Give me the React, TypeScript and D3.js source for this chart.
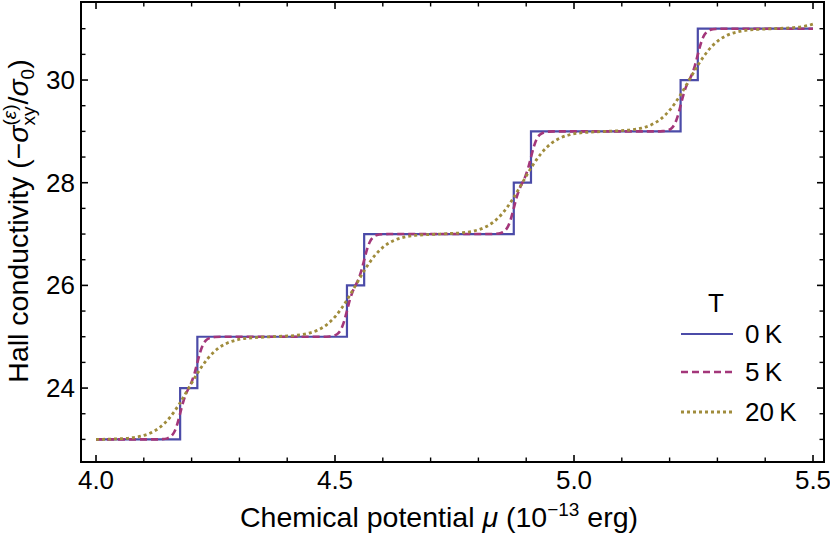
import React from 'react';
import * as d3 from 'd3';

// ---- data ----
const muT0 = [4.0, 4.176, 4.212, 4.525, 4.561, 4.874, 4.910, 5.223, 5.259, 5.5];
const sigmaT0 = [23, 24, 25, 26, 27, 28, 29, 30, 31, 31];

const mu5K = [4.0,
  4.124, 4.139, 4.149, 4.158, 4.164, 4.170, 4.176, 4.182, 4.188, 4.194, 4.200, 4.206, 4.212, 4.218, 4.224, 4.230, 4.239, 4.249, 4.264,
  4.473, 4.488, 4.498, 4.507, 4.513, 4.519, 4.525, 4.531, 4.537, 4.543, 4.549, 4.555, 4.561, 4.567, 4.573, 4.579, 4.588, 4.598, 4.613,
  4.822, 4.837, 4.847, 4.856, 4.862, 4.868, 4.874, 4.880, 4.886, 4.892, 4.898, 4.904, 4.910, 4.916, 4.922, 4.928, 4.937, 4.947, 4.962,
  5.171, 5.186, 5.196, 5.205, 5.211, 5.217, 5.223, 5.229, 5.235, 5.241, 5.247, 5.253, 5.259, 5.265, 5.271, 5.277, 5.286, 5.296, 5.311,
  5.5];
const sigma5K = [23.0,
  23.0, 23.005, 23.02, 23.069, 23.15, 23.298, 23.505, 23.717, 23.881, 24.0, 24.119, 24.283, 24.495, 24.702, 24.85, 24.931, 24.98, 24.995, 25.0,
  25.0, 25.005, 25.02, 25.069, 25.15, 25.298, 25.505, 25.717, 25.881, 26.0, 26.119, 26.283, 26.495, 26.702, 26.85, 26.931, 26.98, 26.995, 27.0,
  27.0, 27.005, 27.02, 27.069, 27.15, 27.298, 27.505, 27.717, 27.881, 28.0, 28.119, 28.283, 28.495, 28.702, 28.85, 28.931, 28.98, 28.995, 29.0,
  29.0, 29.005, 29.02, 29.069, 29.15, 29.298, 29.505, 29.717, 29.881, 30.0, 30.119, 30.283, 30.495, 30.702, 30.85, 30.931, 30.98, 30.995, 31.0,
  31.0];

const mu20K = [4.0,
  4.044, 4.069, 4.094, 4.114, 4.134, 4.154, 4.174, 4.194, 4.214, 4.234, 4.254, 4.274, 4.294, 4.319, 4.344,
  4.3685,
  4.393, 4.418, 4.443, 4.463, 4.483, 4.503, 4.523, 4.543, 4.563, 4.583, 4.603, 4.623, 4.643, 4.668, 4.693,
  4.7175,
  4.742, 4.767, 4.792, 4.812, 4.832, 4.852, 4.872, 4.892, 4.912, 4.932, 4.952, 4.972, 4.992, 5.017, 5.042,
  5.0665,
  5.091, 5.116, 5.141, 5.161, 5.181, 5.201, 5.221, 5.241, 5.261, 5.281, 5.301, 5.321, 5.341, 5.366, 5.391,
  5.4155, 5.44, 5.465, 5.49, 5.5];
const sigma20K = [23.0,
  23.011, 23.026, 23.063, 23.125, 23.237, 23.422, 23.685, 24.0, 24.315, 24.578, 24.763, 24.875, 24.937, 24.974, 24.989,
  25.0,
  25.011, 25.026, 25.063, 25.125, 25.237, 25.422, 25.685, 26.0, 26.315, 26.578, 26.763, 26.875, 26.937, 26.974, 26.989,
  27.0,
  27.011, 27.026, 27.063, 27.125, 27.237, 27.422, 27.685, 28.0, 28.315, 28.578, 28.763, 28.875, 28.937, 28.974, 28.989,
  29.0,
  29.011, 29.026, 29.063, 29.125, 29.237, 29.422, 29.685, 30.0, 30.315, 30.578, 30.763, 30.875, 30.937, 30.974, 30.989,
  31.0, 31.01, 31.026, 31.063, 31.089];

const xTickValues = [4.0, 4.5, 5.0, 5.5];
const xTickLabels = ['4.0', '4.5', '5.0', '5.5'];
const yTickValues = [24, 26, 28, 30];
const yTickLabels = ['24', '26', '28', '30'];
const legendLabels = ['0\u2009K', '5\u2009K', '20\u2009K'];
const legendTitle = 'T';

const colors = ['#4b4ba8', '#a3367a', '#a08c3c'];
const FONT = '"Liberation Sans", Arial, Helvetica, sans-serif';

export default function App() {
  const W = 830, H = 535;
  const L = 81, R = 824, T = 2, B = 462;
  const x = d3.scaleLinear().domain([3.9686, 5.523]).range([L, R]);
  const y = d3.scaleLinear().domain([22.56, 31.52]).range([B, T]);

  const zip = (a: number[], b: number[]) => a.map((v, i) => [v, b[i]] as [number, number]);
  const stepGen = d3.line<[number, number]>().x(d => x(d[0])).y(d => y(d[1])).curve(d3.curveStepAfter);
  const smoothGen = d3.line<[number, number]>().x(d => x(d[0])).y(d => y(d[1])).curve(d3.curveMonotoneX);

  const xMinor = d3.range(40, 56).map(v => v / 10).filter(v => !xTickValues.some(t => Math.abs(t - v) < 1e-6));
  const yMinor = d3.range(46, 63).map(v => v / 2).filter(v => !yTickValues.includes(v));

  const maj = 7, mnr = 4.5;
  const fs = 26;
  const lfs = 28.5;
  const sfs = 19;

  return (
    <svg width={W} height={H} style={{ position: 'absolute', left: 0, top: 0, background: '#fff' }} fontFamily={FONT}>
      <rect x={0} y={0} width={W} height={H} fill="#fff" />
      {/* curves */}
      <path d={stepGen(zip(muT0, sigmaT0)) || ''} fill="none" stroke={colors[0]} strokeWidth={2.2} />
      <path d={smoothGen(zip(mu5K, sigma5K)) || ''} fill="none" stroke={colors[1]} strokeWidth={2.6} strokeDasharray="7,4" />
      <path d={smoothGen(zip(mu20K, sigma20K)) || ''} fill="none" stroke={colors[2]} strokeWidth={2.8} strokeDasharray="3,3" />

      {/* frame */}
      <rect x={L} y={T} width={R - L} height={B - T} fill="none" stroke="#000" strokeWidth={2} />
      {/* x ticks */}
      {xTickValues.map(v => (
        <g key={'xt' + v}>
          <line x1={x(v)} x2={x(v)} y1={B} y2={B - maj} stroke="#000" strokeWidth={1.6} />
          <line x1={x(v)} x2={x(v)} y1={T} y2={T + maj} stroke="#000" strokeWidth={1.6} />
        </g>
      ))}
      {xMinor.map(v => (
        <g key={'xm' + v}>
          <line x1={x(v)} x2={x(v)} y1={B} y2={B - mnr} stroke="#000" strokeWidth={1.4} />
          <line x1={x(v)} x2={x(v)} y1={T} y2={T + mnr} stroke="#000" strokeWidth={1.4} />
        </g>
      ))}
      {yTickValues.map(v => (
        <g key={'yt' + v}>
          <line x1={L} x2={L + maj} y1={y(v)} y2={y(v)} stroke="#000" strokeWidth={1.6} />
          <line x1={R} x2={R - maj} y1={y(v)} y2={y(v)} stroke="#000" strokeWidth={1.6} />
        </g>
      ))}
      {yMinor.map(v => (
        <g key={'ym' + v}>
          <line x1={L} x2={L + mnr} y1={y(v)} y2={y(v)} stroke="#000" strokeWidth={1.4} />
          <line x1={R} x2={R - mnr} y1={y(v)} y2={y(v)} stroke="#000" strokeWidth={1.4} />
        </g>
      ))}
      {/* tick labels */}
      {xTickValues.map((v, i) => (
        <text key={'xl' + v} x={x(v)} y={489} textAnchor="middle" fontSize={fs} fill="#000">{xTickLabels[i]}</text>
      ))}
      {yTickValues.map((v, i) => (
        <text key={'yl' + v} x={75} y={y(v) + 9} textAnchor="end" fontSize={fs} fill="#000">{yTickLabels[i]}</text>
      ))}

      {/* x label */}
      <text x={439} y={527} textAnchor="middle" fontSize={lfs} fill="#000">
        Chemical potential <tspan fontStyle="italic">μ</tspan> (10<tspan dy={-11} fontSize={sfs}>−13</tspan><tspan dy={11}> erg)</tspan>
      </text>

      {/* y label */}
      <text transform="translate(28,221) rotate(-90)" textAnchor="middle" fontSize={lfs} fill="#000">
        Hall conductivity (−<tspan fontStyle="italic">σ</tspan>
        <tspan dy={-12} fontSize={sfs}>(</tspan><tspan fontSize={sfs} fontStyle="italic">ε</tspan><tspan fontSize={sfs}>)</tspan>
        <tspan dx={-21} dy={19} fontSize={sfs}>xy</tspan>
        <tspan dx={2} dy={-7}>/</tspan><tspan fontStyle="italic">σ</tspan>
        <tspan dy={6} fontSize={sfs}>0</tspan><tspan dy={-6}>)</tspan>
      </text>

      {/* legend */}
      <text x={716} y={312} textAnchor="middle" fontSize={fs} fill="#000">{legendTitle}</text>
      {legendLabels.map((lab, i) => {
        const ly = [334, 372, 412][i];
        return (
          <g key={lab}>
            <line x1={681} x2={733} y1={ly} y2={ly} stroke={colors[i]} strokeWidth={i === 0 ? 2.2 : i === 1 ? 2.6 : 2.8}
              strokeDasharray={i === 0 ? undefined : i === 1 ? '7,4' : '3,3'} />
            <text x={745} y={ly + 9} fontSize={fs} fill="#000">{lab}</text>
          </g>
        );
      })}
    </svg>
  );
}
